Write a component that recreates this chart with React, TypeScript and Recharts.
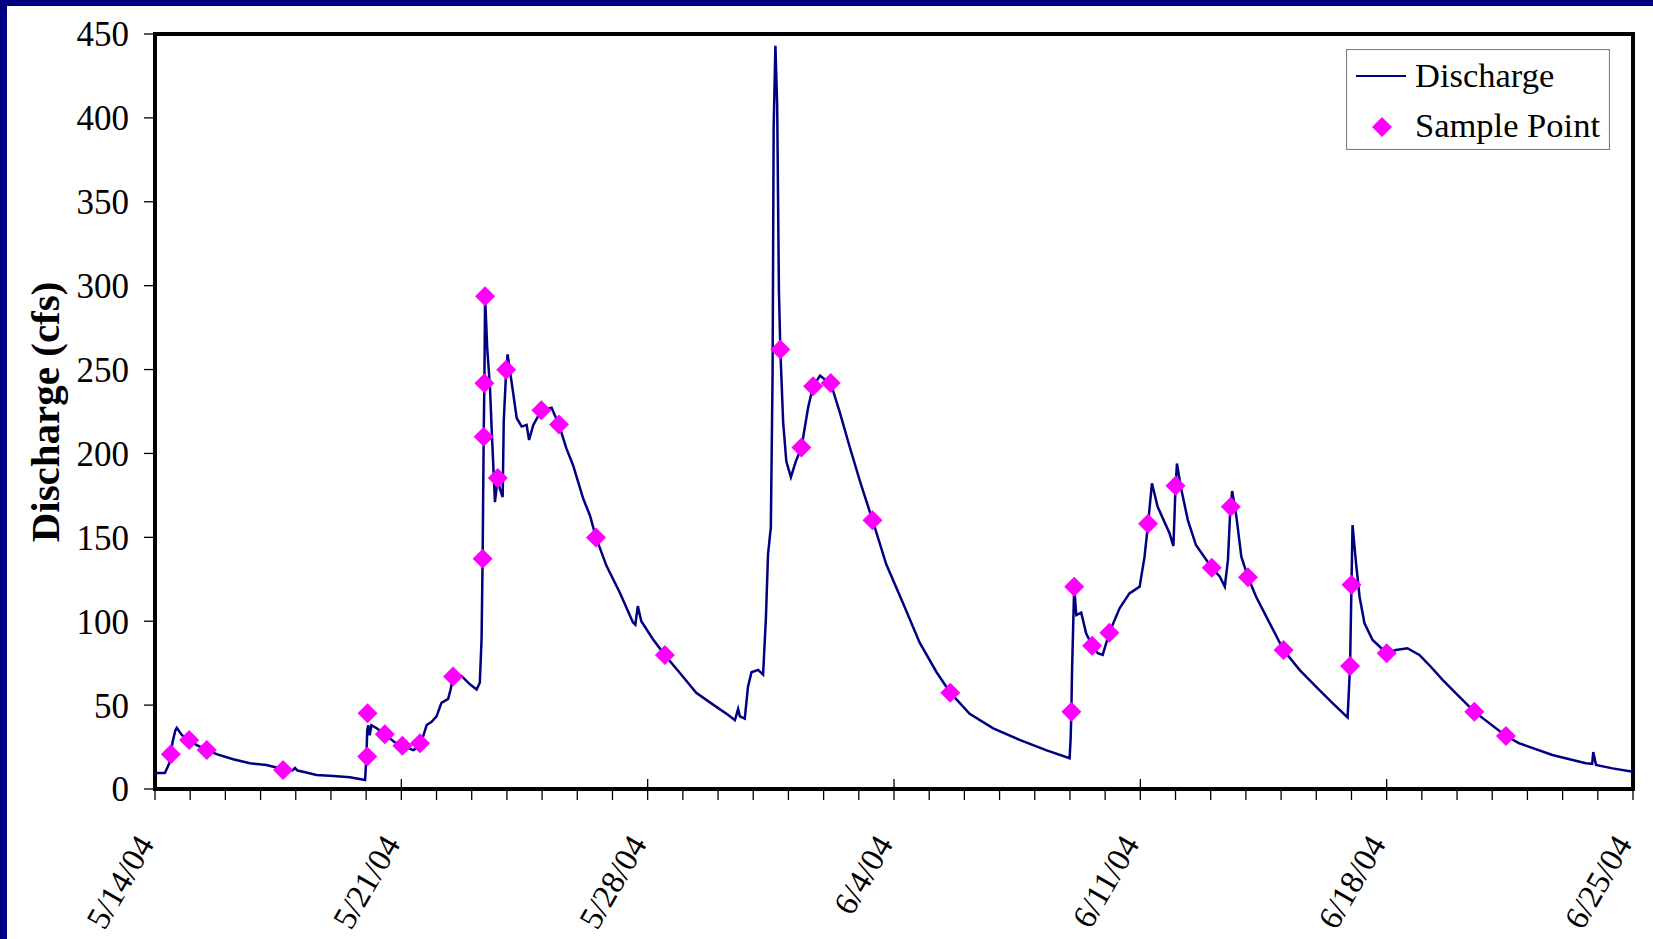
import React from 'react';
import {
  ComposedChart,
  Line,
  Scatter,
  XAxis,
  YAxis,
  ReferenceArea,
  Legend,
} from 'recharts';

const dischargeDay = [
  0, 0.28, 0.4, 0.5, 0.58, 0.62, 0.76, 0.97, 1.2, 1.47, 1.75, 2.22, 2.7, 3.17, 3.64, 3.9, 3.98, 4.05,
  4.21, 4.59, 5.07, 5.54, 5.97, 6.01, 6.03, 6.06, 6.1, 6.15, 6.3, 6.53, 6.8, 7.03, 7.34, 7.5, 7.6,
  7.72, 7.86, 8.0, 8.14, 8.33, 8.4, 8.47, 8.71, 8.95, 9.14, 9.23, 9.28, 9.31, 9.34, 9.36, 9.38, 9.44,
  9.52, 9.57, 9.66, 9.74, 9.8, 9.88, 9.91, 9.98, 10.02, 10.13, 10.28, 10.42, 10.56, 10.63, 10.75,
  10.98, 11.27, 11.48, 11.69, 11.88, 12.17, 12.36, 12.53, 12.83, 13.21, 13.58, 13.65, 13.72, 13.82,
  14.15, 14.49, 14.91, 15.38, 15.86, 16.28, 16.48, 16.57, 16.62, 16.76, 16.85, 16.95, 17.14, 17.28,
  17.36, 17.42, 17.5, 17.55, 17.58, 17.63, 17.68, 17.73, 17.77, 17.85, 17.94, 18.07, 18.21, 18.37,
  18.56, 18.7, 18.9, 18.98, 19.2, 19.46, 19.74, 20.03, 20.39, 20.78, 21.26, 21.73, 22.21, 22.6,
  23.15, 23.82, 24.57, 25.32, 25.99, 26.02, 26.04, 26.06, 26.12, 26.18, 26.32, 26.46, 26.63, 26.79,
  26.93, 27.12, 27.41, 27.69, 27.98, 28.12, 28.22, 28.33, 28.49, 28.64, 28.83, 28.94, 29.0, 29.04,
  29.15, 29.35, 29.58, 30.03, 30.26, 30.4, 30.49, 30.56, 30.61, 30.73, 30.87, 31.06, 31.29, 31.58,
  32.07, 32.53, 32.9, 33.09, 33.47, 33.89, 33.96, 34.0, 34.03, 34.13, 34.23, 34.37, 34.6, 35.0,
  35.26, 35.59, 35.93, 36.21, 36.59, 36.97, 37.49, 38.39, 38.77, 39.71, 40.66, 40.84, 40.87, 40.95,
  41.42, 42.0,
];
const dischargeCfs = [
  9.5, 9.5, 15, 28, 35, 36.5, 32.2, 29, 26, 23.5, 20.8, 17.7, 15.3, 14.3, 11.8, 11, 12.5, 11,
  10.3, 8.3, 7.7, 7.0, 5.4, 20, 35, 38, 32, 38, 36.2, 32.6, 28, 25.8, 23.2, 25, 30,
  38.1, 40.1, 43.3, 51.3, 53.7, 59.3, 67, 67.4, 62.4, 59.3, 63.3, 89.3, 137, 210, 242, 293.7, 263,
  239, 213, 171, 185, 179, 174, 219, 250, 259, 243, 221, 216, 217, 208, 217,
  225.7, 227.3, 217, 203, 193, 173, 163, 150, 133, 117, 99.4, 98, 109, 100,
  89.3, 79.8, 69.3, 57.3, 50.3, 44.3, 41, 47.7, 43.3, 41.9, 60.8, 69.6, 71, 68.2,
  101.8, 139.8, 155.9, 248, 394, 443, 408, 297, 262, 218.6, 195.3, 185.9, 195.3, 203.5,
  227.4, 240, 246.4, 245, 242, 224.5, 204, 183.6, 160.2, 133.9, 110.6, 87.2, 69.6, 57.4,
  44.8, 36.1, 29.3, 23.2, 18.3, 30, 46, 71, 120.6, 103.7, 105.1, 92.8, 85.4, 80.9,
  79.9, 93.2, 107.7, 116.6, 120.6, 138.5, 158.1, 182.2, 168.3, 161.3, 152.4, 144.8, 180, 194,
  180, 160.3, 145.4, 131.9, 126.5, 120.6, 136.5, 168.3, 177.6, 162.3, 138.5, 126.2, 114.6, 102.7,
  82.8, 70.9, 63, 59, 51.1, 42.7, 73.3, 121.8, 157.3, 134.5, 114.6, 98.8, 88.8, 80.9,
  82.8, 83.9, 79.9, 73.9, 65, 57, 46.1, 31.6, 27.2, 20.3, 15.3, 15, 22, 14.3,
  12.3, 10.3,
];

const sampleDay = [
  0.45, 0.97, 1.47, 3.64, 6.03, 6.04, 6.53, 7.03, 7.53, 8.47, 9.31, 9.34, 9.36, 9.38, 9.74, 9.98,
  10.98, 11.48, 12.53, 14.49, 17.77, 18.37, 18.7, 19.2, 20.39, 22.6, 26.04, 26.12, 26.63, 27.12,
  28.22, 29.0, 30.03, 30.57, 31.06, 32.07, 33.96, 34.0, 35.0, 37.49, 38.39,
];
const sampleCfs = [
  20.7, 29.2, 23.2, 11.3, 19.3, 45.1, 32.6, 25.8, 27.2, 67, 137.3, 209.9, 241.9, 293.7, 185.4, 249.9,
  225.7, 217.3, 149.9, 79.8, 261.9, 203.5, 240, 242, 160.2, 57.4, 46.1, 120.6, 85.4, 93.2,
  158.1, 180.8, 131.9, 168.3, 126.2, 82.8, 73.3, 121.8, 80.9, 46.1, 31.6,
];

const dateLabels = ['5/14/04', '5/21/04', '5/28/04', '6/4/04', '6/11/04', '6/18/04', '6/25/04'];
const dayTicks = Array.from({ length: 43 }, (_, i) => i);
const cfsTicks = [0, 50, 100, 150, 200, 250, 300, 350, 400, 450];

const dischargeData = dischargeDay.map((day, i) => ({ day, cfs: dischargeCfs[i] }));
const sampleData = sampleDay.map((day, i) => ({ day, cfs: sampleCfs[i] }));

const FONT = '"Liberation Serif", "Times New Roman", serif';
const NAVY = '#000080';
const MAGENTA = '#FF00FF';

const Diamond = ({ cx, cy }: any) => {
  if (cx == null || cy == null) return null;
  const r = 10;
  return (
    <polygon
      points={`${cx},${cy - r} ${cx + r},${cy} ${cx},${cy + r} ${cx - r},${cy}`}
      fill={MAGENTA}
    />
  );
};

// day ticks: long crossing tick + rotated date every week, short tick otherwise
const DateTick = ({ x, y, payload }: any) => {
  const day = payload.value;
  const major = day % 7 === 0;
  const ty = y + 55;
  return (
    <g>
      <line x1={x} x2={x} y1={major ? y - 10 : y} y2={y + 11} stroke="#000" strokeWidth={1.3} />
      {major && (
        <text
          x={x}
          y={ty}
          textAnchor="end"
          transform={`rotate(-60, ${x}, ${ty})`}
          fontFamily={FONT}
          fontSize={33}
          fill="#000"
        >
          {dateLabels[day / 7]}
        </text>
      )}
    </g>
  );
};

const LegendBox = () => (
  <svg width={264} height={101} style={{ display: 'block' }}>
    <rect x={0.5} y={0.5} width={263} height={100} fill="#fff" stroke="#808080" strokeWidth={1.2} />
    <line x1={10} x2={60} y1={27} y2={27} stroke={NAVY} strokeWidth={2} />
    <polygon points="36,68 46,78 36,88 26,78" fill={MAGENTA} />
    <text x={69} y={38} fontFamily={FONT} fontSize={34.5} fill="#000">Discharge</text>
    <text x={69} y={88} fontFamily={FONT} fontSize={34.5} fill="#000">Sample Point</text>
  </svg>
);

export default function App() {
  return (
    <div
      style={{
        position: 'absolute',
        left: 0,
        top: 0,
        width: 1653,
        height: 939,
        background: '#fff',
        overflow: 'hidden',
      }}
    >
      <div style={{ position: 'absolute', left: 0, top: 0, width: 1653, height: 6, background: NAVY }} />
      <div style={{ position: 'absolute', left: 0, top: 0, width: 7, height: 939, background: NAVY }} />
      <div
        style={{
          position: 'absolute',
          left: 45,
          top: 411.5,
          transform: 'translate(-50%, -50%) rotate(-90deg)',
          whiteSpace: 'nowrap',
          fontFamily: FONT,
          fontWeight: 'bold',
          fontSize: 41,
          lineHeight: 1,
          color: '#000',
        }}
      >
        Discharge (cfs)
      </div>
      <ComposedChart
        width={1653}
        height={939}
        margin={{ top: 34, right: 20, bottom: 0, left: 0 }}
        style={{ position: 'absolute', left: 0, top: 0 }}
      >
        <XAxis
          type="number"
          dataKey="day"
          domain={[0, 42]}
          ticks={dayTicks}
          interval={0}
          height={150}
          axisLine={false}
          tickLine={false}
          tickSize={0}
          tickMargin={0}
          tick={<DateTick />}
        />
        <YAxis
          type="number"
          dataKey="cfs"
          domain={[0, 450]}
          ticks={cfsTicks}
          interval={0}
          width={155}
          axisLine={false}
          tickLine={{ stroke: '#000', strokeWidth: 1.3 }}
          tickSize={11}
          tickMargin={15}
          tick={{ fill: '#000', fontSize: 35, fontFamily: FONT }}
        />
        <ReferenceArea x1={0} x2={42} y1={0} y2={450} fill="none" stroke="#000" strokeWidth={4} />
        <Line
          data={dischargeData}
          dataKey="cfs"
          type="linear"
          stroke={NAVY}
          strokeWidth={2.5}
          dot={false}
          activeDot={false}
          isAnimationActive={false}
          name="Discharge"
        />
        <Scatter
          data={sampleData}
          dataKey="cfs"
          fill={MAGENTA}
          shape={<Diamond />}
          isAnimationActive={false}
          name="Sample Point"
        />
        <Legend
          layout="horizontal"
          verticalAlign="middle"
          align="center"
          wrapperStyle={{ top: 49, left: 1346, width: 264, height: 101 }}
          content={<LegendBox />}
        />
      </ComposedChart>
    </div>
  );
}
